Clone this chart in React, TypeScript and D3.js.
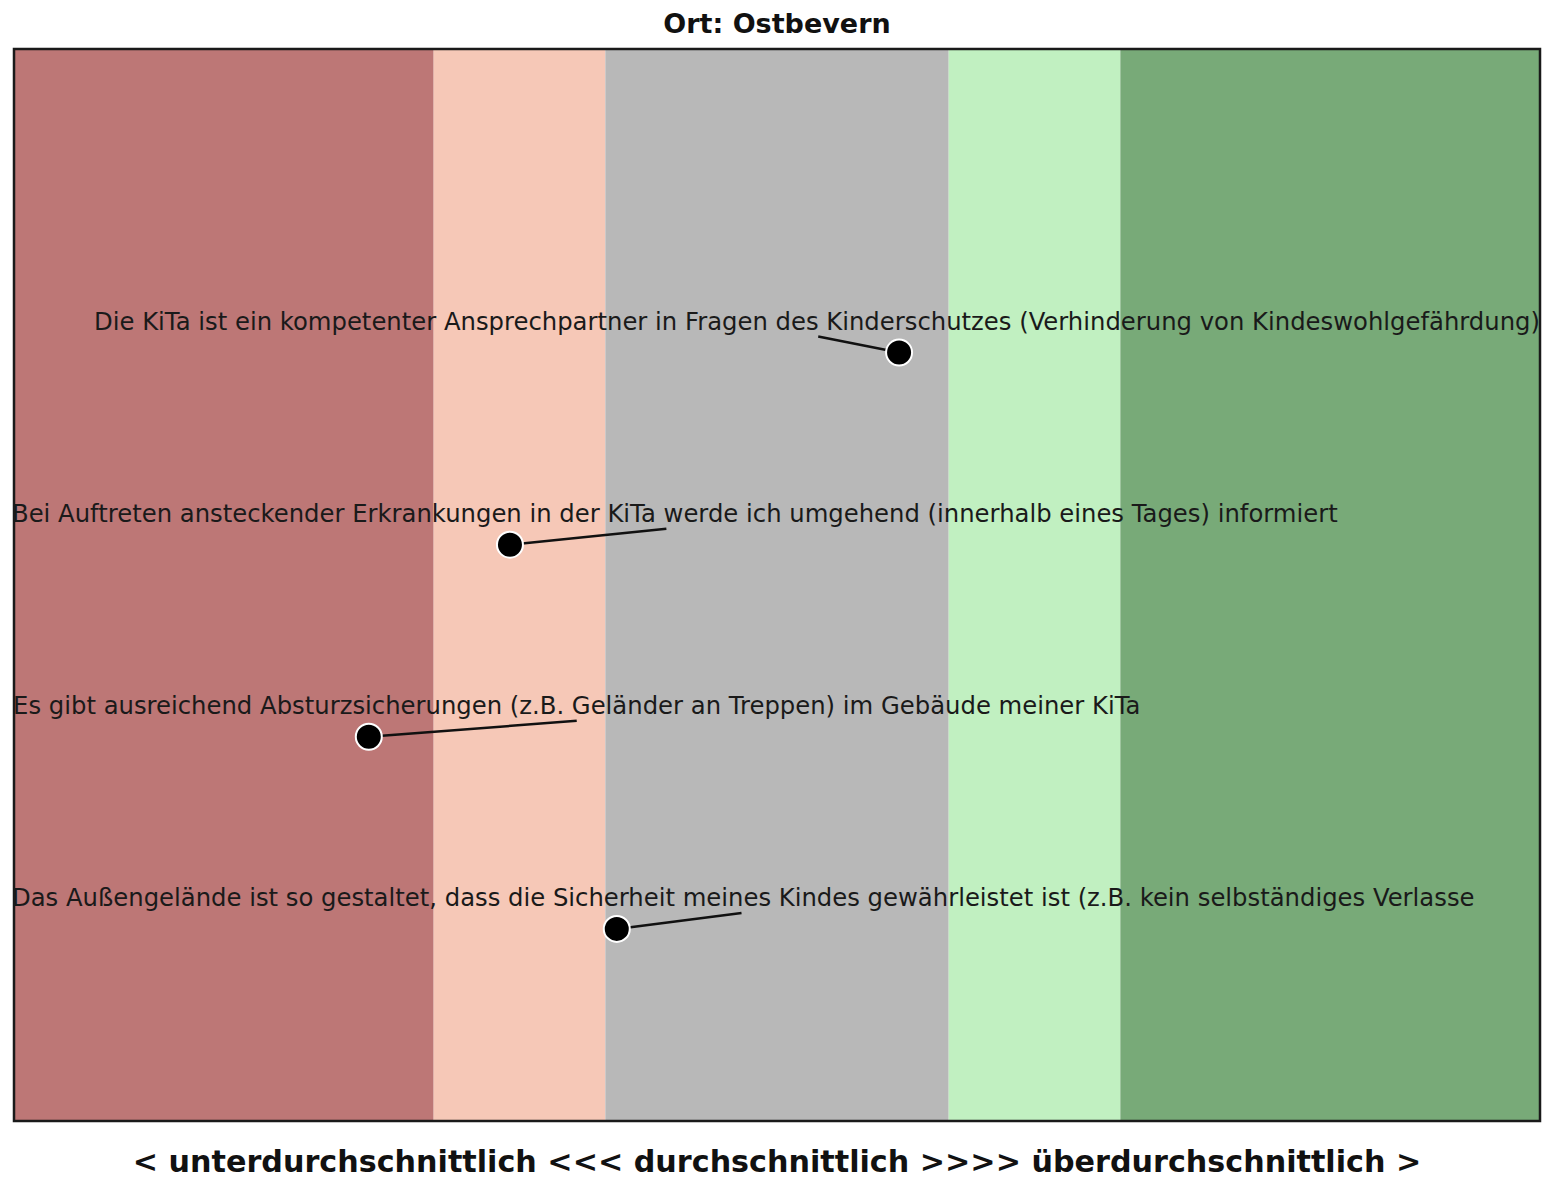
import { useEffect, useRef } from "react";
import * as d3 from "d3";

// band breaks on the score axis and their fill colours
const bandBreaks = [-2, -0.9, -0.45, 0.45, 0.9, 2];
const bandColors = ["#BD7776", "#F6C8B7", "#B8B8B8", "#C1F0C1", "#78AA78"];

const items = [
  "Die KiTa ist ein kompetenter Ansprechpartner in Fragen des Kinderschutzes (Verhinderung von Kindeswohlgefährdung)",
  "Bei Auftreten ansteckender Erkrankungen in der KiTa werde ich umgehend (innerhalb eines Tages) informiert",
  "Es gibt ausreichend Absturzsicherungen (z.B. Geländer an Treppen) im Gebäude meiner KiTa",
  "Das Außengelände ist so gestaltet, dass die Sicherheit meines Kindes gewährleistet ist (z.B. kein selbständiges Verlasse",
];
const scores = [0.32, -0.7, -1.07, -0.42];
const rows = [4, 3, 2, 1];
// label anchor (where the leader line ends), in data units
const labelX = [0.108, -0.29, -0.525, -0.093];
const labelDy = 0.083;

const title = "Ort: Ostbevern";
const xTitle = "< unterdurchschnittlich <<< durchschnittlich >>>> überdurchschnittlich >";

export default function App() {
  const svgRef = useRef<SVGSVGElement>(null);

  useEffect(() => {
    const svgEl = svgRef.current;
    if (!svgEl) return;
    const width = 1543;
    const height = 1180;
    const margin = { top: 49, right: 3, bottom: 59, left: 14 };
    const innerW = width - margin.left - margin.right;
    const innerH = height - margin.top - margin.bottom;

    const svg = d3.select(svgEl);
    svg.selectAll("*").remove();

    const x = d3.scaleLinear().domain([-2, 2]).range([0, innerW]);
    const y = d3.scaleLinear().domain([0, 5.58]).range([innerH, 0]);

    svg
      .append("text")
      .attr("x", margin.left + innerW / 2)
      .attr("y", 33)
      .attr("text-anchor", "middle")
      .attr("font-family", "DejaVu Sans, sans-serif")
      .attr("font-weight", "bold")
      .attr("font-size", 27)
      .attr("fill", "#111")
      .text(title);

    const g = svg
      .append("g")
      .attr("transform", `translate(${margin.left},${margin.top})`);

    g.selectAll("rect.band")
      .data(bandColors)
      .join("rect")
      .attr("class", "band")
      .attr("x", (_, i) => x(bandBreaks[i]))
      .attr("width", (_, i) => x(bandBreaks[i + 1]) - x(bandBreaks[i]))
      .attr("y", 0)
      .attr("height", innerH)
      .attr("fill", (d) => d);

    const pts = items.map((label, i) => ({
      label,
      v: scores[i],
      row: rows[i],
      lx: labelX[i],
    }));

    // leader lines
    g.selectAll("line.leader")
      .data(pts)
      .join("line")
      .attr("class", "leader")
      .attr("x1", (d) => x(d.v))
      .attr("y1", (d) => y(d.row))
      .attr("x2", (d) => x(d.lx))
      .attr("y2", (d) => y(d.row + labelDy))
      .attr("stroke", "#111")
      .attr("stroke-width", 2.5);

    // labels, repelled inside the panel
    const labels = g
      .selectAll("text.lab")
      .data(pts)
      .join("text")
      .attr("class", "lab")
      .attr("y", (d) => y(d.row + labelDy) - 7)
      .attr("font-family", "DejaVu Sans, sans-serif")
      .attr("font-size", 24.3)
      .attr("fill", "#1a1a1a")
      .text((d) => d.label);
    labels.each(function (d) {
      const el = this as SVGTextElement;
      const w = el.getComputedTextLength();
      let left = x(d.lx) - w / 2;
      if (left < -2) left = -2;
      if (left + w > innerW) left = innerW - w;
      el.setAttribute("x", String(left));
    });

    g.selectAll("circle.pt")
      .data(pts)
      .join("circle")
      .attr("class", "pt")
      .attr("cx", (d) => x(d.v))
      .attr("cy", (d) => y(d.row))
      .attr("r", 13)
      .attr("fill", "#000")
      .attr("stroke", "#fff")
      .attr("stroke-width", 2);

    g.append("rect")
      .attr("x", 0)
      .attr("y", 0)
      .attr("width", innerW)
      .attr("height", innerH)
      .attr("fill", "none")
      .attr("stroke", "#1a1a1a")
      .attr("stroke-width", 2.5);

    svg
      .append("text")
      .attr("x", margin.left + innerW / 2)
      .attr("y", 1172)
      .attr("text-anchor", "middle")
      .attr("font-family", "DejaVu Sans, sans-serif")
      .attr("font-weight", "bold")
      .attr("font-size", 30.2)
      .attr("fill", "#111")
      .text(xTitle);
  }, []);

  return (
    <svg
      ref={svgRef}
      width={1543}
      height={1180}
      style={{ display: "block", position: "absolute", left: 0, top: 0 }}
    />
  );
}
